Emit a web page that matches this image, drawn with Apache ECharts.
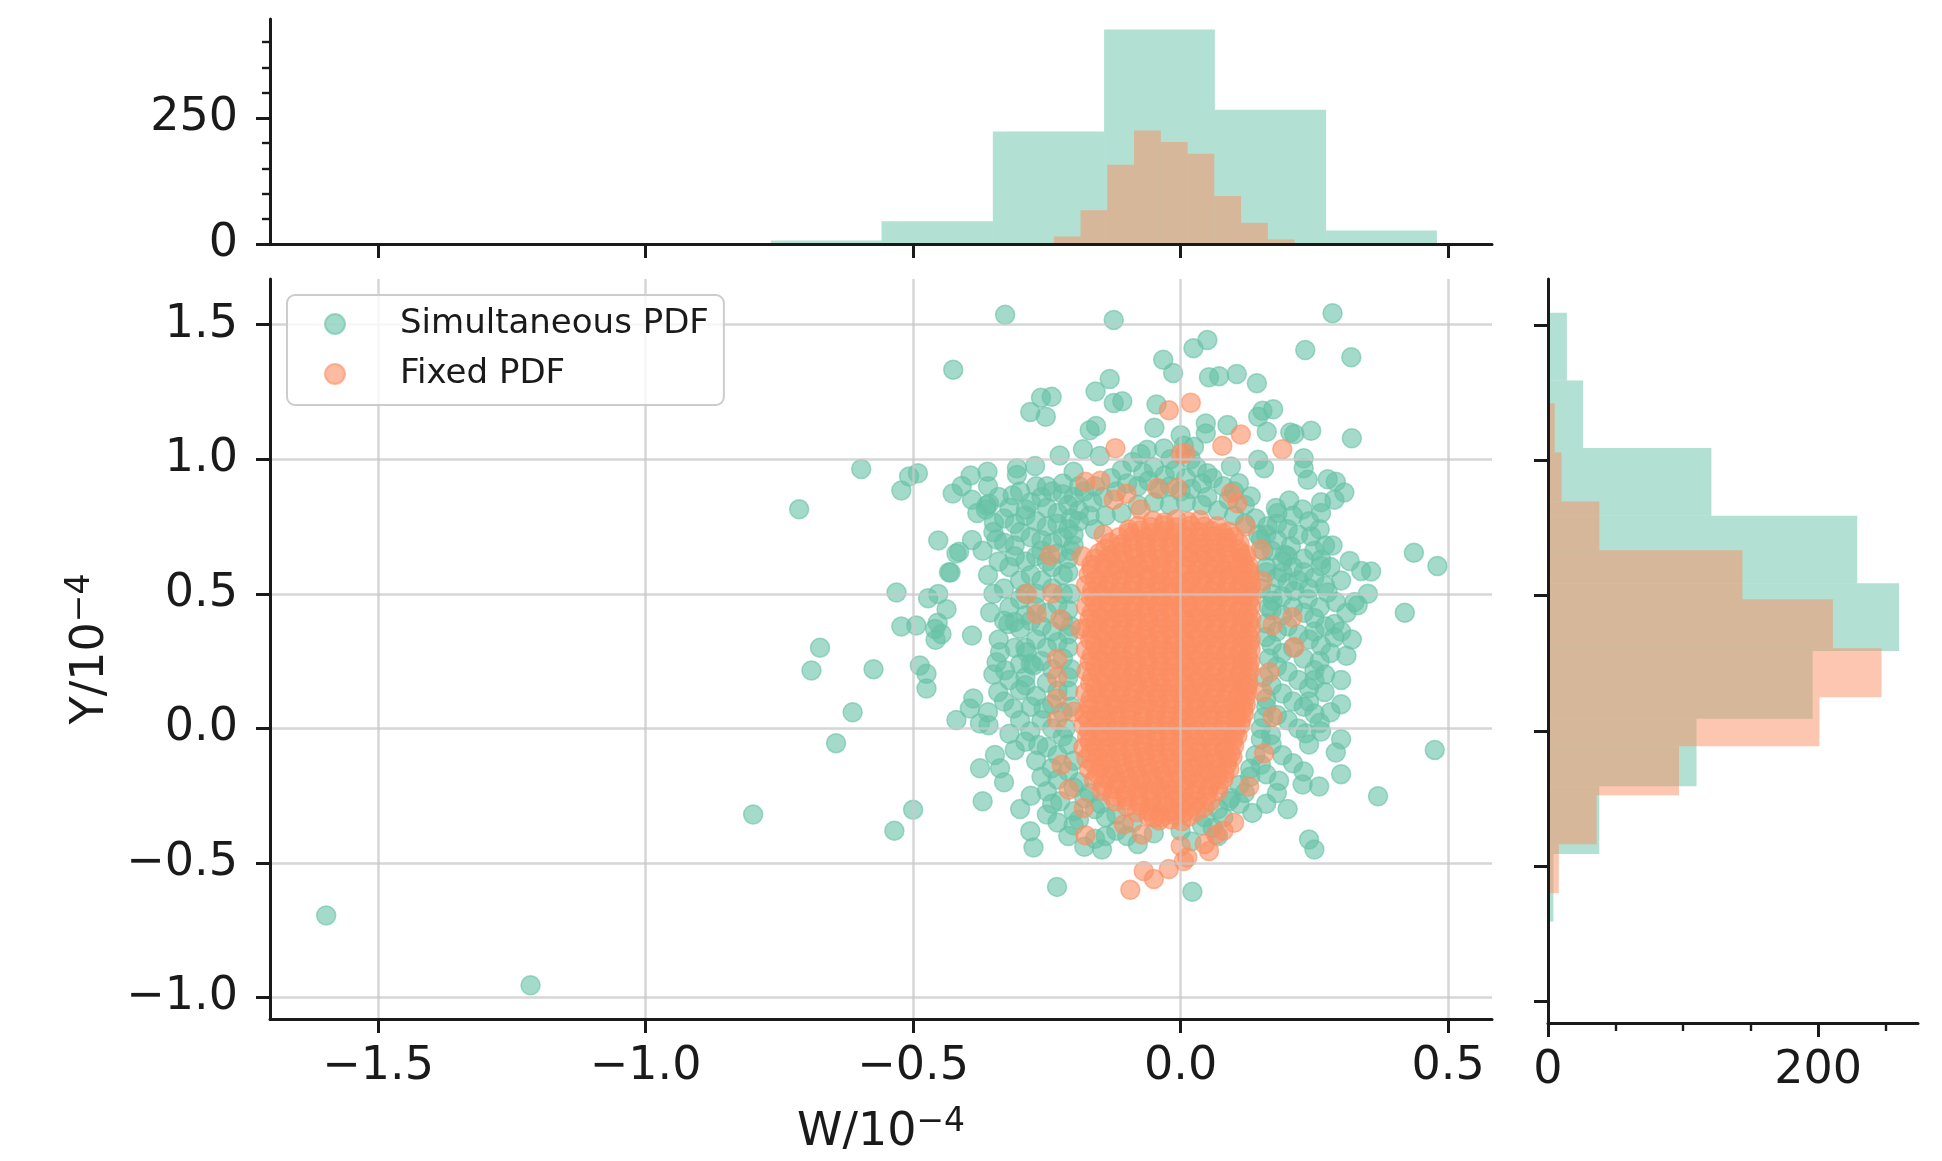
<!DOCTYPE html>
<html>
<head>
<meta charset="utf-8">
<title>Simultaneous vs Fixed PDF</title>
<script src="https://cdn.jsdelivr.net/npm/echarts@6/dist/echarts.min.js"></script>
<style>
    html, body { margin: 0; padding: 0; background: #fff; }
    #chart { width: 1942px; height: 1161px; }
</style>
</head>
<body>
<div id="chart"></div>
<script>
// ==================
// DATA
// ==================

const wTicks = [-1.5, -1.0, -0.5, 0.0, 0.5];
const yTicks = [-1.0, -0.5, 0.0, 0.5, 1.0, 1.5];
const topCountTicks = [0, 250];
const topCountMinor = [50, 100, 150, 200, 300, 350, 400];
const sideCountTicks = [0, 200];
const sideCountMinor = [50, 100, 150, 250];

// marginal histograms: bin edges + counts
const simWEdges = [-1.597, -1.389, -1.182, -0.974, -0.766, -0.559, -0.351, -0.143, 0.064, 0.272, 0.479];
const simWCounts = [1, 1, 0, 1, 7, 45, 223, 425, 266, 27];
const fixWEdges = [-0.287, -0.237, -0.187, -0.137, -0.087, -0.037, 0.013, 0.063, 0.113, 0.163, 0.213];
const fixWCounts = [2, 15, 67, 157, 225, 202, 179, 95, 42, 9];
const simYEdges = [-0.955, -0.705, -0.455, -0.205, 0.045, 0.295, 0.545, 0.795, 1.045, 1.295, 1.545];
const simYCounts = [1, 4, 38, 110, 196, 260, 229, 121, 26, 14];
const fixYEdges = [-0.600, -0.419, -0.238, -0.057, 0.124, 0.305, 0.486, 0.667, 0.848, 1.029, 1.210];
const fixYCounts = [8, 36, 97, 201, 247, 211, 144, 38, 10, 5];

// scatter: Simultaneous PDF (W, Y)
const simOutliers = [
    [-1.597,-0.695],[-1.215,-0.955],[-0.799,-0.32],[-0.713,0.814],[-0.674,0.30],[-0.69,0.215],
    [-0.613,0.06],[-0.644,-0.055],[-0.597,0.964],[-0.574,0.22],[-0.535,-0.38],[-0.5,-0.302],
    [-0.328,1.537],[-0.125,1.518],[-0.425,1.333],[0.284,1.543],[0.233,1.406],[0.319,1.379],
    [0.436,0.653],[0.48,0.603],[0.419,0.43],[0.475,-0.08],[0.369,-0.252],
    [-0.231,-0.589],[-0.147,-0.45],[0.022,-0.607],[0.24,-0.413],[0.25,-0.45]
];
const simUpperLeft = [
    [-0.261,1.229],[-0.241,1.232],[-0.281,1.176],[-0.252,1.158],[-0.159,1.252],[-0.1325,1.298],
    [-0.125,1.209],[-0.109,1.216],[-0.045,1.204],[-0.049,1.117],[-0.17,1.108],[-0.158,1.124],
    [0.0,1.089],[-0.1825,1.037],[-0.226,1.014],[-0.151,1.012],[-0.2,0.954],[-0.272,0.975],
    [-0.306,0.967],[-0.306,0.942],[-0.361,0.954],[-0.3925,0.94],[-0.409,0.901],[-0.491,0.948],
    [-0.5075,0.936],[-0.522,0.884],[-0.314,0.866],[-0.3625,0.828],[-0.358,0.835],[-0.364,0.813],
    [-0.289,0.813],[-0.349,0.764],[-0.344,0.702],[-0.453,0.698],[-0.414,0.656],[-0.43,0.579],
    [-0.531,0.505],[-0.453,0.499],[-0.0325,1.37],[-0.014,1.321],[0.024,1.413],
    [-0.0625,1.035],[-0.031,1.04],[-0.075,1.02],[-0.019,1.0],[0.025,1.047],
    [-0.426,0.873],[-0.419,0.65],[-0.433,0.58],[-0.472,0.484],[-0.458,0.329],[-0.454,0.393]
];
const simUpperCluster = [
    [-0.26,0.86],[-0.24,0.88],[-0.22,0.87],[-0.2,0.86],[-0.18,0.88],[-0.25,0.82],[-0.23,0.8],
    [-0.21,0.83],[-0.19,0.81],[-0.165,0.84],[-0.145,0.86],[-0.27,0.77],[-0.25,0.75],[-0.23,0.76],
    [-0.21,0.74],[-0.19,0.77],[-0.17,0.79],[-0.26,0.7],[-0.24,0.69],[-0.22,0.71],[-0.2,0.68],
    [-0.27,0.64],[-0.25,0.62],[-0.23,0.65],[-0.21,0.63],[-0.3,0.73],[-0.31,0.68],[-0.29,0.62],
    [-0.32,0.6],[-0.28,0.57],[-0.3,0.55],[-0.33,0.52],[-0.29,0.5],
    [-0.11,0.96],[-0.09,0.99],[-0.07,0.95],[-0.05,0.97],[-0.03,0.94],[-0.01,0.96],[0.01,0.93],
    [0.03,0.97],[-0.1,0.91],[-0.08,0.9],[-0.06,0.92],[-0.04,0.89],[-0.02,0.9],[0.0,0.88],
    [0.02,0.89],[0.04,0.91],[0.06,0.93],[0.08,0.9],[0.1,0.88],[-0.13,0.93],[-0.12,0.88],
    [0.05,0.86],[0.09,0.85],[0.12,0.83],
    [-0.34,0.86],[-0.32,0.82],[-0.33,0.78],[-0.31,0.76],[-0.29,0.79],[-0.28,0.84],[-0.3,0.88],
    [-0.27,0.9],[-0.25,0.9],[-0.22,0.91],[-0.19,0.9],[-0.16,0.9],[-0.28,0.71],[-0.26,0.66],
    [-0.24,0.6],[-0.22,0.57],[-0.26,0.55],[-0.24,0.52],[-0.27,0.5],[-0.22,0.5],[-0.31,0.64],
    [-0.33,0.69],[-0.35,0.73],[-0.34,0.62],[-0.36,0.57],[-0.38,0.8],[-0.36,0.9],[-0.39,0.85],
    [-0.37,0.66],[-0.39,0.7],
    [-0.16,0.74],[-0.14,0.79],[-0.11,0.8],[-0.08,0.83],[-0.05,0.84],[-0.02,0.83],[0.01,0.84],
    [0.04,0.83],[0.07,0.81],[0.1,0.79],[0.12,0.76]
];
const simUpperRight = [
    [0.05,1.443],[0.053,1.305],[0.072,1.309],[0.105,1.317],[0.1425,1.283],[0.153,1.18],
    [0.173,1.186],[0.145,1.158],[0.047,1.133],[0.0875,1.127],[0.047,1.096],[0.161,1.102],
    [0.2125,1.094],[0.205,1.1],[0.244,1.106],[0.32,1.078],[0.145,0.998],[0.156,0.967],
    [0.23,1.004],[0.23,0.967],[0.2375,0.924],[0.275,0.926],[0.29,0.917],[0.306,0.877],
    [0.2875,0.85],[0.2625,0.84],[0.2625,0.8],[0.203,0.847],[0.228,0.813],[0.178,0.819],
    [0.131,0.862],[0.109,0.911],[0.094,0.973],[0.05,0.948],[0.019,1.0],[0.006,1.05],
    [0.356,0.583],[0.3375,0.585],[0.316,0.622],[0.284,0.68],[0.2625,0.628],[0.2625,0.603],
    [0.244,0.714],[0.206,0.677],[0.2,0.64],[0.195,0.645],[0.19,0.579],[0.181,0.8],
    [0.1625,0.751],[0.15,0.702],[0.172,0.474],[0.2125,0.511],[0.2375,0.48],[0.275,0.505],
    [0.325,0.47],[0.14,0.78],[0.16,0.72],[0.18,0.7],[0.2,0.74],[0.22,0.72],[0.17,0.66],
    [0.19,0.62],[0.21,0.6],[0.23,0.58],[0.16,0.6],[0.18,0.56],[0.2,0.54],[0.22,0.55],
    [0.15,0.52],[0.17,0.5],[0.19,0.49],[0.24,0.52],[0.25,0.56],
    [0.26,0.74],[0.24,0.77],[0.21,0.79],[0.18,0.76],[0.27,0.68],[0.25,0.66],[0.23,0.63],
    [0.28,0.6],[0.3,0.55],[0.27,0.53],[0.29,0.47],[0.26,0.45]
];
const simLowerLeft = [
    [-0.522,0.379],[-0.494,0.382],[-0.459,0.369],[-0.447,0.351],[-0.39,0.345],[-0.4375,0.443],
    [-0.356,0.431],[-0.322,0.388],[-0.31,0.395],[-0.4875,0.234],[-0.475,0.203],[-0.475,0.148],
    [-0.3375,0.283],[-0.344,0.246],[-0.328,0.216],[-0.2875,0.283],[-0.275,0.234],[-0.3,0.142],
    [-0.341,0.135],[-0.3875,0.111],[-0.394,0.074],[-0.419,0.031],[-0.375,0.018],[-0.359,0.012],
    [-0.3125,0.074],[-0.256,0.074],[-0.281,-0.012],[-0.266,-0.062],[-0.25,-0.07],[-0.241,-0.148],
    [-0.347,-0.099],[-0.375,-0.148],[-0.3375,-0.148],[-0.37,-0.271],[-0.25,-0.234],[-0.25,-0.32],
    [-0.225,-0.271],[-0.2,-0.308],[-0.281,-0.382],[-0.275,-0.443],
    [-0.27,0.45],[-0.25,0.43],[-0.23,0.46],[-0.28,0.4],[-0.26,0.38],[-0.24,0.36],[-0.22,0.4],
    [-0.27,0.33],[-0.25,0.3],[-0.23,0.32],[-0.21,0.35],[-0.26,0.25],[-0.24,0.22],[-0.22,0.26],
    [-0.25,0.17],[-0.23,0.14],[-0.21,0.19],[-0.27,0.12],[-0.24,0.09],[-0.22,0.06],[-0.26,0.03],
    [-0.24,0.0],[-0.22,-0.03],[-0.23,-0.1],[-0.21,-0.16],[-0.23,-0.19],[-0.2,-0.22],[-0.18,-0.26],
    [-0.16,-0.3],[-0.14,-0.33],[-0.19,-0.34],[-0.35,0.5],[-0.32,0.45],[-0.3,0.48],[-0.34,0.33],
    [-0.31,0.3],[-0.3,0.24],[-0.32,0.18],[-0.29,0.19],
    [-0.29,0.42],[-0.3,0.37],[-0.29,0.3],[-0.28,0.24],[-0.29,0.16],[-0.28,0.08],[-0.3,0.03],
    [-0.29,-0.05],[-0.27,-0.12],[-0.26,-0.18],[-0.28,-0.25],[-0.24,-0.28],[-0.23,-0.35],
    [-0.21,-0.4],[-0.18,-0.44],[-0.33,0.4],[-0.35,0.2],[-0.33,0.1],[-0.36,0.06],[-0.32,-0.02],
    [-0.31,-0.08],[-0.33,-0.2],[-0.3,-0.3],
    [-0.205,0.78],[-0.2,0.72],[-0.205,0.66],[-0.21,0.58],[-0.205,0.5],[-0.21,0.44],[-0.205,0.38],
    [-0.21,0.3],[-0.205,0.22],[-0.21,0.14],[-0.205,0.08],[-0.215,0.0],[-0.21,-0.06],[-0.2,-0.12],
    [-0.19,-0.2],[-0.17,-0.24],[-0.15,-0.28],[-0.12,-0.32],[-0.09,-0.35]
];
const simLowerRight = [
    [0.331,0.458],[0.2875,0.388],[0.2875,0.339],[0.2625,0.308],[0.25,0.216],[0.269,0.135],
    [0.25,0.055],[0.234,-0.018],[0.2625,-0.012],[0.3,-0.17],[0.259,-0.216],[0.228,-0.209],
    [0.184,-0.195],[0.134,-0.314],[0.094,-0.259],[0.15,-0.135],[0.169,-0.025],
    [0.17,0.44],[0.19,0.42],[0.21,0.45],[0.23,0.43],[0.25,0.41],[0.16,0.39],[0.18,0.36],
    [0.2,0.38],[0.22,0.35],[0.24,0.33],[0.17,0.31],[0.19,0.28],[0.21,0.3],[0.23,0.26],
    [0.18,0.23],[0.2,0.21],[0.22,0.18],[0.24,0.15],[0.17,0.16],[0.19,0.13],[0.21,0.1],
    [0.23,0.08],[0.16,0.08],[0.18,0.05],[0.2,0.03],[0.22,0.0],[0.15,0.0],[0.17,-0.06],
    [0.19,-0.1],[0.13,-0.18],[0.12,-0.24],[0.11,-0.28],[0.16,-0.17],[0.08,-0.33],[0.06,-0.37],
    [0.35,0.5],[0.31,0.43],[0.3,0.36],[0.28,0.28],[0.27,0.2],[0.28,0.06],
    [-0.12,-0.38],[-0.1,-0.4],[-0.05,-0.39],[0.0,-0.38],[0.04,-0.36],[-0.16,-0.41],
    [0.27,0.38],[0.25,0.36],[0.26,0.25],[0.25,0.18],[0.24,0.1],[0.26,0.02],[0.24,-0.06],
    [0.21,-0.13],[0.23,-0.16],[0.18,-0.24],[0.16,-0.28],[0.2,-0.3],[0.3,0.09],[0.3,0.18],
    [0.31,0.27],[0.32,0.33],[0.3,-0.04],[0.29,-0.09],
    [0.145,0.72],[0.155,0.66],[0.16,0.58],[0.165,0.45],[0.16,0.34],[0.165,0.26],[0.155,0.19],
    [0.16,0.11],[0.155,0.04],[0.15,-0.04],[0.14,-0.1],[0.13,-0.15],[0.11,-0.21],[0.09,-0.27],
    [0.07,-0.3],[0.045,-0.33],
    [-0.14,-0.4],[-0.08,-0.43],[0.02,-0.42],[0.07,-0.4],[-0.2,-0.36]
];

// scatter: Fixed PDF (W, Y)
const fixEdge = [
    [-0.022,1.182],[0.019,1.21],[-0.122,1.041],[0.009,1.022],[0.0,1.02],[0.1125,1.092],
    [0.078,1.05],[0.19,1.037],[-0.178,0.917],[-0.15,0.92],[-0.125,0.85],[-0.101,0.872],
    [-0.044,0.893],[-0.006,0.893],[-0.144,0.72],[-0.097,0.739],[-0.244,0.643],[-0.184,0.64],
    [-0.287,0.499],[-0.24,0.501],[-0.075,0.813],[0.094,0.874],[0.106,0.837],[0.122,0.751],
    [0.15,0.665],[0.153,0.548],[-0.269,0.425],[-0.225,0.406],[-0.1875,0.369],[-0.231,0.259],
    [-0.231,0.191],[-0.231,0.111],[-0.2,0.062],[-0.231,0.031],[-0.222,-0.135],[-0.209,-0.228],
    [-0.181,-0.296],[-0.178,-0.397],[-0.072,-0.394],[-0.106,-0.357],[-0.05,-0.332],[-0.069,-0.53],
    [-0.05,-0.56],[-0.094,-0.6],[-0.022,-0.523],[0.0,-0.437],[0.006,-0.493],[0.209,0.413],
    [0.172,0.384],[0.213,0.302],[0.166,0.209],[0.153,0.135],[0.172,0.043],[0.156,-0.092],
    [0.128,-0.216],[0.1,-0.351],[0.066,-0.394],[0.053,-0.456],[0.0125,-0.48],[0.045,-0.43],
    [0.08,-0.38]
];
const fixCore = [
    [-0.052,0.772],[-0.03,0.765],[-0.008,0.776],[0.014,0.768],[0.036,0.774],
    [-0.097,0.728],[-0.075,0.735],[-0.053,0.726],[-0.031,0.733],[-0.009,0.727],[0.013,0.736],[0.035,0.729],[0.057,0.734],[0.079,0.726],[0.09,0.731],
    [-0.132,0.69],[-0.11,0.684],[-0.088,0.694],[-0.066,0.687],[-0.044,0.692],[-0.022,0.685],[0.0,0.695],[0.022,0.686],[0.044,0.691],[0.066,0.688],[0.088,0.693],[0.11,0.686],
    [-0.152,0.652],[-0.13,0.646],[-0.108,0.655],[-0.086,0.648],[-0.064,0.653],[-0.042,0.645],[-0.02,0.654],[0.002,0.647],[0.024,0.652],[0.046,0.644],[0.068,0.655],[0.09,0.649],[0.112,0.653],[0.122,0.645],
    [-0.167,0.608],[-0.145,0.614],[-0.123,0.606],[-0.101,0.612],[-0.079,0.605],[-0.057,0.613],[-0.035,0.607],[-0.013,0.615],[0.009,0.606],[0.031,0.611],[0.053,0.604],[0.075,0.613],[0.097,0.607],[0.119,0.612],[0.127,0.604],
    [-0.172,0.572],[-0.15,0.566],[-0.128,0.574],[-0.106,0.567],[-0.084,0.575],[-0.062,0.568],[-0.04,0.573],[-0.018,0.565],[0.004,0.574],[0.026,0.569],[0.048,0.576],[0.07,0.566],[0.092,0.572],[0.114,0.567],[0.13,0.574],
    [-0.177,0.532],[-0.155,0.526],[-0.133,0.535],[-0.111,0.528],[-0.089,0.533],[-0.067,0.525],[-0.045,0.534],[-0.023,0.527],[-0.001,0.531],[0.021,0.524],[0.043,0.535],[0.065,0.529],[0.087,0.534],[0.109,0.526],[0.132,0.531],
    [-0.168,0.488],[-0.146,0.494],[-0.124,0.486],[-0.102,0.493],[-0.08,0.487],[-0.058,0.495],[-0.036,0.489],[-0.014,0.492],[0.008,0.485],[0.03,0.494],[0.052,0.488],[0.074,0.491],[0.096,0.486],[0.118,0.493],[0.133,0.489],
    [-0.177,0.452],[-0.155,0.446],[-0.133,0.455],[-0.111,0.447],[-0.089,0.453],[-0.067,0.445],[-0.045,0.454],[-0.023,0.448],[-0.001,0.451],[0.021,0.446],[0.043,0.455],[0.065,0.449],[0.087,0.452],[0.109,0.445],[0.131,0.453],
    [-0.17,0.408],[-0.148,0.414],[-0.126,0.406],[-0.104,0.413],[-0.082,0.407],[-0.06,0.415],[-0.038,0.409],[-0.016,0.412],[0.006,0.405],[0.028,0.414],[0.05,0.408],[0.072,0.411],[0.094,0.406],[0.116,0.413],[0.132,0.409],
    [-0.176,0.372],[-0.154,0.366],[-0.132,0.375],[-0.11,0.367],[-0.088,0.373],[-0.066,0.365],[-0.044,0.374],[-0.022,0.368],[0.0,0.371],[0.022,0.366],[0.044,0.375],[0.066,0.369],[0.088,0.372],[0.11,0.365],[0.132,0.373],
    [-0.169,0.328],[-0.147,0.334],[-0.125,0.326],[-0.103,0.333],[-0.081,0.327],[-0.059,0.335],[-0.037,0.329],[-0.015,0.332],[0.007,0.325],[0.029,0.334],[0.051,0.328],[0.073,0.331],[0.095,0.326],[0.117,0.333],[0.131,0.329],
    [-0.177,0.292],[-0.155,0.286],[-0.133,0.295],[-0.111,0.287],[-0.089,0.293],[-0.067,0.285],[-0.045,0.294],[-0.023,0.288],[-0.001,0.291],[0.021,0.286],[0.043,0.295],[0.065,0.289],[0.087,0.292],[0.109,0.285],[0.131,0.293],
    [-0.17,0.248],[-0.148,0.254],[-0.126,0.246],[-0.104,0.253],[-0.082,0.247],[-0.06,0.255],[-0.038,0.249],[-0.016,0.252],[0.006,0.245],[0.028,0.254],[0.05,0.248],[0.072,0.251],[0.094,0.246],[0.116,0.253],[0.13,0.249],
    [-0.176,0.212],[-0.154,0.206],[-0.132,0.215],[-0.11,0.207],[-0.088,0.213],[-0.066,0.205],[-0.044,0.214],[-0.022,0.208],[0.0,0.211],[0.022,0.206],[0.044,0.215],[0.066,0.209],[0.088,0.212],[0.11,0.205],[0.129,0.213],
    [-0.169,0.168],[-0.147,0.174],[-0.125,0.166],[-0.103,0.173],[-0.081,0.167],[-0.059,0.175],[-0.037,0.169],[-0.015,0.172],[0.007,0.165],[0.029,0.174],[0.051,0.168],[0.073,0.171],[0.095,0.166],[0.117,0.173],[0.127,0.169],
    [-0.178,0.132],[-0.156,0.126],[-0.134,0.135],[-0.112,0.127],[-0.09,0.133],[-0.068,0.125],[-0.046,0.134],[-0.024,0.128],[-0.002,0.131],[0.02,0.126],[0.042,0.135],[0.064,0.129],[0.086,0.132],[0.108,0.125],[0.124,0.133],
    [-0.171,0.088],[-0.149,0.094],[-0.127,0.086],[-0.105,0.093],[-0.083,0.087],[-0.061,0.095],[-0.039,0.089],[-0.017,0.092],[0.005,0.085],[0.027,0.094],[0.049,0.088],[0.071,0.091],[0.093,0.086],[0.115,0.093],[0.122,0.088],
    [-0.18,0.052],[-0.158,0.046],[-0.136,0.055],[-0.114,0.047],[-0.092,0.053],[-0.07,0.045],[-0.048,0.054],[-0.026,0.048],[-0.004,0.051],[0.018,0.046],[0.04,0.055],[0.062,0.049],[0.084,0.052],[0.106,0.045],[0.118,0.053],
    [-0.182,0.012],[-0.16,0.006],[-0.138,0.015],[-0.116,0.007],[-0.094,0.013],[-0.072,0.005],[-0.05,0.014],[-0.028,0.008],[-0.006,0.011],[0.016,0.006],[0.038,0.015],[0.06,0.009],[0.082,0.012],[0.104,0.005],[0.112,0.013],
    [-0.175,-0.032],[-0.153,-0.026],[-0.131,-0.035],[-0.109,-0.027],[-0.087,-0.033],[-0.065,-0.025],[-0.043,-0.034],[-0.021,-0.028],[0.001,-0.031],[0.023,-0.026],[0.045,-0.035],[0.067,-0.029],[0.089,-0.032],[0.106,-0.027],
    [-0.182,-0.072],[-0.16,-0.066],[-0.138,-0.075],[-0.116,-0.067],[-0.094,-0.073],[-0.072,-0.065],[-0.05,-0.074],[-0.028,-0.068],[-0.006,-0.071],[0.016,-0.066],[0.038,-0.075],[0.06,-0.069],[0.082,-0.072],[0.1,-0.065],
    [-0.176,-0.112],[-0.154,-0.106],[-0.132,-0.115],[-0.11,-0.107],[-0.088,-0.113],[-0.066,-0.105],[-0.044,-0.114],[-0.022,-0.108],[0.0,-0.111],[0.022,-0.106],[0.044,-0.115],[0.066,-0.109],[0.088,-0.112],[0.097,-0.106],
    [-0.171,-0.152],[-0.149,-0.146],[-0.127,-0.155],[-0.105,-0.147],[-0.083,-0.153],[-0.061,-0.145],[-0.039,-0.154],[-0.017,-0.148],[0.005,-0.151],[0.027,-0.146],[0.049,-0.155],[0.071,-0.149],[0.091,-0.152],
    [-0.162,-0.192],[-0.14,-0.186],[-0.118,-0.195],[-0.096,-0.187],[-0.074,-0.193],[-0.052,-0.185],[-0.03,-0.194],[-0.008,-0.188],[0.014,-0.191],[0.036,-0.186],[0.058,-0.195],[0.08,-0.189],
    [-0.147,-0.232],[-0.125,-0.226],[-0.103,-0.235],[-0.081,-0.227],[-0.059,-0.233],[-0.037,-0.225],[-0.015,-0.234],[0.007,-0.228],[0.029,-0.231],[0.051,-0.226],[0.07,-0.233],
    [-0.122,-0.272],[-0.1,-0.266],[-0.078,-0.275],[-0.056,-0.267],[-0.034,-0.273],[-0.012,-0.265],[0.01,-0.274],[0.032,-0.268],[0.055,-0.271],
    [-0.082,-0.312],[-0.06,-0.306],[-0.038,-0.315],[-0.016,-0.307],[0.006,-0.313],[0.03,-0.308],
    [-0.04,-0.342],[-0.018,-0.338],[0.002,-0.345]
];
// second, denser layer inside the solid orange core
const fixCoreInner = [
    [-0.08,0.752],[-0.056,0.748],[-0.031,0.755],[-0.006,0.747],[0.019,0.753],[0.044,0.749],[0.068,0.751],
    [-0.115,0.71],[-0.09,0.714],[-0.065,0.707],[-0.04,0.713],[-0.015,0.706],[0.01,0.712],[0.035,0.708],[0.06,0.714],[0.085,0.707],[0.1,0.711],
    [-0.141,0.668],[-0.116,0.673],[-0.091,0.666],[-0.066,0.672],[-0.041,0.667],[-0.016,0.674],[0.009,0.665],[0.034,0.671],[0.059,0.667],[0.084,0.673],[0.109,0.666],
    [-0.16,0.63],[-0.135,0.634],[-0.11,0.627],[-0.085,0.633],[-0.06,0.626],[-0.035,0.632],[-0.01,0.628],[0.015,0.634],[0.04,0.627],[0.065,0.633],[0.09,0.626],[0.115,0.631],
    [-0.166,0.59],[-0.141,0.594],[-0.116,0.587],[-0.091,0.593],[-0.066,0.586],[-0.041,0.592],[-0.016,0.588],[0.009,0.595],[0.034,0.587],[0.059,0.592],[0.084,0.586],[0.109,0.593],[0.126,0.589],
    [-0.16,0.551],[-0.135,0.546],[-0.11,0.553],[-0.085,0.547],[-0.06,0.554],[-0.035,0.548],[-0.01,0.552],[0.015,0.545],[0.04,0.553],[0.065,0.549],[0.09,0.555],[0.115,0.546],[0.128,0.552],
    [-0.166,0.51],[-0.141,0.514],[-0.116,0.507],[-0.091,0.513],[-0.066,0.506],[-0.041,0.512],[-0.016,0.508],[0.009,0.515],[0.034,0.507],[0.059,0.512],[0.084,0.506],[0.109,0.513],[0.126,0.509],
    [-0.16,0.471],[-0.135,0.466],[-0.11,0.473],[-0.085,0.467],[-0.06,0.474],[-0.035,0.468],[-0.01,0.472],[0.015,0.465],[0.04,0.473],[0.065,0.469],[0.09,0.475],[0.115,0.466],[0.128,0.472],
    [-0.166,0.43],[-0.141,0.434],[-0.116,0.427],[-0.091,0.433],[-0.066,0.426],[-0.041,0.432],[-0.016,0.428],[0.009,0.435],[0.034,0.427],[0.059,0.432],[0.084,0.426],[0.109,0.433],[0.126,0.429],
    [-0.16,0.391],[-0.135,0.386],[-0.11,0.393],[-0.085,0.387],[-0.06,0.394],[-0.035,0.388],[-0.01,0.392],[0.015,0.385],[0.04,0.393],[0.065,0.389],[0.09,0.395],[0.115,0.386],[0.128,0.392],
    [-0.166,0.35],[-0.141,0.354],[-0.116,0.347],[-0.091,0.353],[-0.066,0.346],[-0.041,0.352],[-0.016,0.348],[0.009,0.355],[0.034,0.347],[0.059,0.352],[0.084,0.346],[0.109,0.353],[0.126,0.349],
    [-0.16,0.311],[-0.135,0.306],[-0.11,0.313],[-0.085,0.307],[-0.06,0.314],[-0.035,0.308],[-0.01,0.312],[0.015,0.305],[0.04,0.313],[0.065,0.309],[0.09,0.315],[0.115,0.306],[0.128,0.312],
    [-0.166,0.27],[-0.141,0.274],[-0.116,0.267],[-0.091,0.273],[-0.066,0.266],[-0.041,0.272],[-0.016,0.268],[0.009,0.275],[0.034,0.267],[0.059,0.272],[0.084,0.266],[0.109,0.273],[0.126,0.269],
    [-0.16,0.231],[-0.135,0.226],[-0.11,0.233],[-0.085,0.227],[-0.06,0.234],[-0.035,0.228],[-0.01,0.232],[0.015,0.225],[0.04,0.233],[0.065,0.229],[0.09,0.235],[0.115,0.226],[0.127,0.232],
    [-0.166,0.19],[-0.141,0.194],[-0.116,0.187],[-0.091,0.193],[-0.066,0.186],[-0.041,0.192],[-0.016,0.188],[0.009,0.195],[0.034,0.187],[0.059,0.192],[0.084,0.186],[0.109,0.193],[0.125,0.189],
    [-0.16,0.151],[-0.135,0.146],[-0.11,0.153],[-0.085,0.147],[-0.06,0.154],[-0.035,0.148],[-0.01,0.152],[0.015,0.145],[0.04,0.153],[0.065,0.149],[0.09,0.155],[0.115,0.146],[0.124,0.152],
    [-0.168,0.11],[-0.143,0.114],[-0.118,0.107],[-0.093,0.113],[-0.068,0.106],[-0.043,0.112],[-0.018,0.108],[0.007,0.115],[0.032,0.107],[0.057,0.112],[0.082,0.106],[0.107,0.113],[0.12,0.109],
    [-0.17,0.071],[-0.145,0.066],[-0.12,0.073],[-0.095,0.067],[-0.07,0.074],[-0.045,0.068],[-0.02,0.072],[0.005,0.065],[0.03,0.073],[0.055,0.069],[0.08,0.075],[0.105,0.066],[0.117,0.072],
    [-0.172,0.03],[-0.147,0.034],[-0.122,0.027],[-0.097,0.033],[-0.072,0.026],[-0.047,0.032],[-0.022,0.028],[0.003,0.035],[0.028,0.027],[0.053,0.032],[0.078,0.026],[0.103,0.033],[0.113,0.029],
    [-0.172,-0.01],[-0.147,-0.014],[-0.122,-0.007],[-0.097,-0.013],[-0.072,-0.006],[-0.047,-0.012],[-0.022,-0.008],[0.003,-0.015],[0.028,-0.007],[0.053,-0.012],[0.078,-0.006],[0.102,-0.013],
    [-0.17,-0.051],[-0.145,-0.046],[-0.12,-0.053],[-0.095,-0.047],[-0.07,-0.054],[-0.045,-0.048],[-0.02,-0.052],[0.005,-0.045],[0.03,-0.053],[0.055,-0.049],[0.08,-0.055],[0.098,-0.046],
    [-0.168,-0.09],[-0.143,-0.094],[-0.118,-0.087],[-0.093,-0.093],[-0.068,-0.086],[-0.043,-0.092],[-0.018,-0.088],[0.007,-0.095],[0.032,-0.087],[0.057,-0.092],[0.082,-0.086],[0.094,-0.093],
    [-0.163,-0.131],[-0.138,-0.126],[-0.113,-0.133],[-0.088,-0.127],[-0.063,-0.134],[-0.038,-0.128],[-0.013,-0.132],[0.012,-0.125],[0.037,-0.133],[0.062,-0.129],[0.086,-0.135],
    [-0.156,-0.17],[-0.131,-0.174],[-0.106,-0.167],[-0.081,-0.173],[-0.056,-0.166],[-0.031,-0.172],[-0.006,-0.168],[0.019,-0.175],[0.044,-0.167],[0.069,-0.172],[0.082,-0.168],
    [-0.145,-0.211],[-0.12,-0.206],[-0.095,-0.213],[-0.07,-0.207],[-0.045,-0.214],[-0.02,-0.208],[0.005,-0.212],[0.03,-0.205],[0.055,-0.213],[0.072,-0.209],
    [-0.128,-0.25],[-0.103,-0.254],[-0.078,-0.247],[-0.053,-0.253],[-0.028,-0.246],[-0.003,-0.252],[0.022,-0.248],[0.048,-0.255],
    [-0.1,-0.291],[-0.075,-0.286],[-0.05,-0.293],[-0.025,-0.287],[0.0,-0.294],[0.022,-0.288],[0.044,-0.292],
    [-0.06,-0.326],[-0.035,-0.33],[-0.01,-0.323],[0.015,-0.328]
];

// ==================
// CONFIG
// ==================

const FONT = 'DejaVu Sans';
const INK = '#1a1a1a';
const GRID_LINE = 'rgba(200, 200, 200, 0.75)';
const GREEN = '#66c2a5';
const ORANGE = '#fc8d62';

const W_MIN = -1.702, W_MAX = 0.582;
const Y_MIN = -1.080, Y_MAX = 1.670;
const TOP_MAX = 446;
const SIDE_MAX = 274;

const mainGrid = { left: 270, top: 279, width: 1222, height: 744 };
const topGrid = { left: 270, top: 19, width: 1222, height: 225 };
const sideGrid = { left: 1548, top: 279, width: 370, height: 744 };

// ==================
// HELPERS
// ==================

const fmtTick = v => v.toFixed(1).replace('-', '\u2212');

function toBins(edges, counts) {
    return counts.map((c, i) => [edges[i], edges[i + 1], c]);
}

function axisBase(extra) {
    return Object.assign({
        type: 'value',
        axisLine: { show: true, onZero: false, lineStyle: { color: INK, width: 3 } },
        axisTick: { show: true, length: 14, lineStyle: { color: INK, width: 3 } },
        axisLabel: { show: false },
        splitLine: { show: false }
    }, extra);
}

function labelStyle(values, fmt, margin, padding) {
    return {
        show: true,
        customValues: values,
        formatter: fmt,
        fontSize: 46,
        fontFamily: FONT,
        color: INK,
        margin: margin,
        padding: padding || 0
    };
}

function minorAxis(extra, values) {
    return Object.assign({
        type: 'value',
        axisLine: { show: false, onZero: false },
        axisTick: { show: true, customValues: values, length: 8, lineStyle: { color: INK, width: 2.4 } },
        axisLabel: { show: false },
        splitLine: { show: false }
    }, extra);
}

// vertical bars (top marginal): item = [x0, x1, count]
function topBars(color) {
    return function (params, api) {
        const a = api.coord([api.value(0), api.value(2)]);
        const b = api.coord([api.value(1), 0]);
        return {
            type: 'rect',
            shape: { x: a[0], y: a[1], width: b[0] - a[0], height: b[1] - a[1] },
            style: { fill: color, opacity: 0.5 }
        };
    };
}

// horizontal bars (right marginal): item = [y0, y1, count]
function sideBars(color) {
    return function (params, api) {
        const a = api.coord([0, api.value(1)]);
        const b = api.coord([api.value(2), api.value(0)]);
        return {
            type: 'rect',
            shape: { x: a[0], y: a[1], width: b[0] - a[0], height: b[1] - a[1] },
            style: { fill: color, opacity: 0.5 }
        };
    };
}

function scatterSeries(name, color, data) {
    return {
        name: name,
        type: 'scatter',
        xAxisIndex: 0,
        yAxisIndex: 0,
        symbol: 'circle',
        symbolSize: 19,
        data: data,
        itemStyle: { color: color, opacity: 0.6, borderColor: color, borderWidth: 1.5 },
        emphasis: { disabled: true },
        z: 2
    };
}

// axis title "X/10^-4" with a raised superscript
function axisTitle(base) {
    return '{b|' + base + '/10}{s|\u22124}';
}

const titleRich = {
    b: { fontSize: 46, fontFamily: FONT, color: INK, lineHeight: 50, verticalAlign: 'bottom' },
    s: { fontSize: 33, fontFamily: FONT, color: INK, lineHeight: 33, verticalAlign: 'top' }
};

// ==================
// CHART
// ==================

const chart = echarts.init(document.getElementById('chart'), null, { renderer: 'canvas' });

const simPoints = [].concat(simOutliers, simUpperLeft, simUpperCluster, simUpperRight, simLowerLeft, simLowerRight);
const fixPoints = [].concat(fixCore, fixCoreInner, fixEdge);

const option = {
    animation: false,
    backgroundColor: '#ffffff',
    grid: [mainGrid, topGrid, sideGrid],
    xAxis: [
        // 0: main W axis
        axisBase({
            gridIndex: 0, min: W_MIN, max: W_MAX, z: 3,
            axisTick: { show: true, customValues: wTicks, length: 14, lineStyle: { color: INK, width: 3 } },
            axisLabel: labelStyle(wTicks, fmtTick, 25),
            splitLine: { show: true, lineStyle: { color: GRID_LINE, width: 2.5 } },
            name: axisTitle('W'), nameLocation: 'middle', nameGap: 87,
            nameTextStyle: { rich: titleRich }
        }),
        // 1: top marginal (shares W)
        axisBase({
            gridIndex: 1, min: W_MIN, max: W_MAX, z: 3,
            axisTick: { show: true, customValues: wTicks, length: 14, lineStyle: { color: INK, width: 3 } }
        }),
        // 2: right marginal counts
        axisBase({
            gridIndex: 2, min: 0, max: SIDE_MAX, z: 3,
            axisTick: { show: true, customValues: sideCountTicks, length: 14, lineStyle: { color: INK, width: 3 } },
            axisLabel: labelStyle(sideCountTicks, v => String(v), 25)
        }),
        // 3: right marginal minor ticks
        minorAxis({ gridIndex: 2, min: 0, max: SIDE_MAX, position: 'bottom', z: 3 }, sideCountMinor)
    ],
    yAxis: [
        // 0: main Y axis
        axisBase({
            gridIndex: 0, min: Y_MIN, max: Y_MAX, z: 3,
            axisTick: { show: true, customValues: yTicks, length: 14, lineStyle: { color: INK, width: 3 } },
            axisLabel: labelStyle(yTicks, fmtTick, 32, [3, 0, 0, 0]),
            splitLine: { show: true, lineStyle: { color: GRID_LINE, width: 2.5 } },
            name: axisTitle('Y'), nameLocation: 'middle', nameGap: 156, nameRotate: 90,
            nameTextStyle: { rich: titleRich }
        }),
        // 1: top marginal counts
        axisBase({
            gridIndex: 1, min: 0, max: TOP_MAX, z: 3,
            axisTick: { show: true, customValues: topCountTicks, length: 14, lineStyle: { color: INK, width: 3 } },
            axisLabel: labelStyle(topCountTicks, v => String(v), 32, [6, 0, 0, 0])
        }),
        // 2: top marginal minor ticks
        minorAxis({ gridIndex: 1, min: 0, max: TOP_MAX, position: 'left', z: 3 }, topCountMinor),
        // 3: right marginal (shares Y)
        axisBase({
            gridIndex: 2, min: Y_MIN, max: Y_MAX, z: 3,
            axisTick: { show: true, customValues: yTicks, length: 14, lineStyle: { color: INK, width: 3 } }
        })
    ],
    legend: {
        left: 287,
        top: 295,
        orient: 'vertical',
        itemWidth: 20,
        itemHeight: 20,
        itemGap: 16,
        padding: [12, 15, 14, 37],
        backgroundColor: 'rgba(255, 255, 255, 0.8)',
        borderColor: '#cccccc',
        borderWidth: 2,
        borderRadius: 8,
        textStyle: { fontFamily: FONT, fontSize: 34, color: INK, lineHeight: 34, padding: [0, 0, 0, 50] },
        data: [
            { name: 'Simultaneous PDF', icon: 'circle' },
            { name: 'Fixed PDF', icon: 'circle' }
        ],
        selectedMode: false
    },
    series: [
        scatterSeries('Simultaneous PDF', GREEN, simPoints),
        scatterSeries('Fixed PDF', ORANGE, fixPoints),
        {
            name: 'simW', type: 'custom', xAxisIndex: 1, yAxisIndex: 1,
            renderItem: topBars(GREEN), encode: { x: [0, 1], y: 2 },
            data: toBins(simWEdges, simWCounts), silent: true, z: 2
        },
        {
            name: 'fixW', type: 'custom', xAxisIndex: 1, yAxisIndex: 1,
            renderItem: topBars(ORANGE), encode: { x: [0, 1], y: 2 },
            data: toBins(fixWEdges, fixWCounts), silent: true, z: 2
        },
        {
            name: 'simY', type: 'custom', xAxisIndex: 2, yAxisIndex: 3,
            renderItem: sideBars(GREEN), encode: { y: [0, 1], x: 2 },
            data: toBins(simYEdges, simYCounts), silent: true, z: 2
        },
        {
            name: 'fixY', type: 'custom', xAxisIndex: 2, yAxisIndex: 3,
            renderItem: sideBars(ORANGE), encode: { y: [0, 1], x: 2 },
            data: toBins(fixYEdges, fixYCounts), silent: true, z: 2
        }
    ]
};

chart.setOption(option);
</script>
</body>
</html>
